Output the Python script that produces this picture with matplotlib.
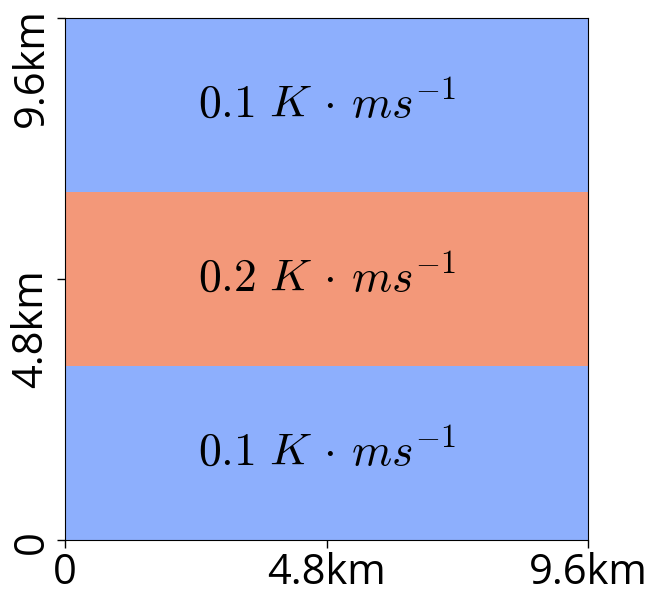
import numpy as np
import matplotlib
matplotlib.use("Agg")
import matplotlib.pyplot as plt
from matplotlib.transforms import ScaledTranslation

plt.rcParams['font.family'] = ['Open Sans', 'DejaVu Sans']
plt.rcParams['mathtext.fontset'] = 'cm'

band_values = [0.1, 0.2, 0.1]          # bottom, middle, top
band_labels = [r'$0.1\ K \,\cdot\, ms^{-1}$', r'$0.2\ K \,\cdot\, ms^{-1}$', r'$0.1\ K \,\cdot\, ms^{-1}$']
domain_km = 9.6
tick_vals = [0, 4.8, 9.6]
tick_labels = ['0', '4.8km', '9.6km']

fig = plt.figure(figsize=(6.49, 5.93), dpi=100)
ax = fig.add_axes([65/649, 53/593, 523/649, 522/593])

grid = np.array(band_values).reshape(-1, 1)
ax.imshow(grid, cmap='coolwarm', vmin=0.05, vmax=0.25, origin='lower',
          extent=[0, domain_km, 0, domain_km], aspect='auto', interpolation='nearest')

n = len(band_values)
for i, lab in enumerate(band_labels):
    yc = (i + 0.5) * domain_km / n
    ax.text(domain_km / 2, yc, lab, ha='center', va='center', fontsize=33)

ax.set_xlim(0, domain_km)
ax.set_ylim(0, domain_km)
ax.set_xticks(tick_vals)
ax.set_xticklabels(tick_labels, fontsize=30)
ax.set_yticks(tick_vals)
ax.set_yticklabels(tick_labels, fontsize=30, rotation=90, ha='right', va='top')
ax.tick_params(length=6, width=1)
ax.tick_params(axis='x', pad=3)
ax.tick_params(axis='y', pad=3)
shift = ScaledTranslation(0, 10/100, fig.dpi_scale_trans)
for lbl in ax.get_yticklabels():
    lbl.set_transform(lbl.get_transform() + shift)

fig.savefig('out.png', dpi=100)
